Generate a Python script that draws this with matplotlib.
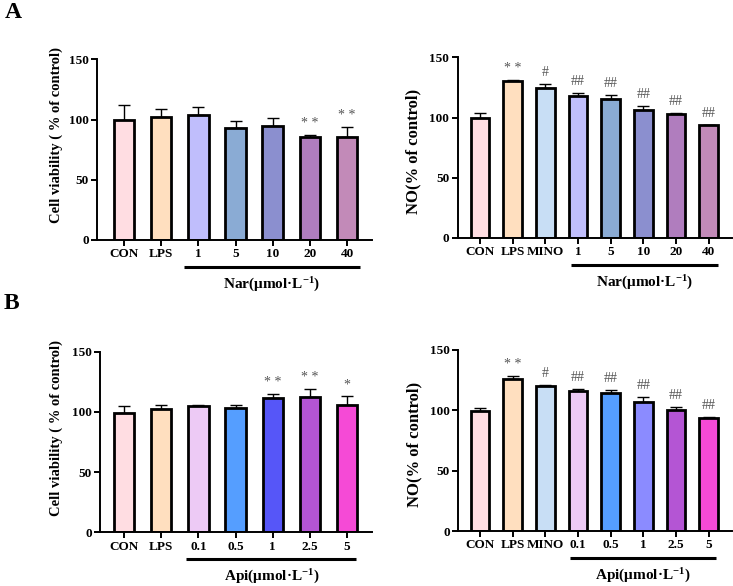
import matplotlib
matplotlib.use("Agg")
import matplotlib.pyplot as plt

plt.rcParams['font.family'] = ['Liberation Serif', 'DejaVu Serif']
plt.rcParams['font.weight'] = 'bold'
plt.rcParams['axes.labelweight'] = 'bold'
plt.rcParams['mathtext.fontset'] = 'custom'
plt.rcParams['mathtext.rm'] = 'Liberation Serif:bold'
plt.rcParams['mathtext.it'] = 'Liberation Serif:bold'
plt.rcParams['mathtext.bf'] = 'Liberation Serif:bold'

# ---- data ----
nar_via_labels = ["CON", "LPS", "1", "5", "10", "20", "40"]
nar_via_values = [99.6, 102.4, 103.5, 92.7, 94.9, 85.8, 85.2]
nar_via_err = [12.2, 6.1, 7.2, 5.8, 6.7, 1.4, 8.6]
nar_via_sig = ["", "", "", "", "", "* *", "* *"]
nar_via_colors = ["#FFDDE2", "#FFDFBF", "#C0BEFC", "#8AABD4", "#8B8FCF", "#B07DBE", "#C28AB8"]

nar_no_labels = ["CON", "LPS", "MINO", "1", "5", "10", "20", "40"]
nar_no_values = [99.6, 130.6, 124.8, 117.6, 115.1, 106.3, 103.0, 93.5]
nar_no_err = [3.9, 0.6, 2.8, 3.1, 3.9, 3.3, 0.5, 0.6]
nar_no_sig = ["", "* *", "#", "##", "##", "##", "##", "##"]
nar_no_colors = ["#FFDDE2", "#FFDFBF", "#C8DEF5", "#C0BEFC", "#8AABD4", "#8B8FCF", "#B07DBE", "#C28AB8"]

api_via_labels = ["CON", "LPS", "0.1", "0.5", "1", "2.5", "5"]
api_via_values = [99.4, 102.1, 105.2, 103.5, 111.5, 112.6, 105.7]
api_via_err = [5.2, 3.4, 0.5, 2.2, 3.4, 6.4, 7.5]
api_via_sig = ["", "", "", "", "* *", "* *", "*"]
api_via_colors = ["#FFDDE2", "#FFDFBF", "#EDCAF5", "#559EFF", "#5656F8", "#B455D4", "#F54AD6"]

api_no_labels = ["CON", "LPS", "MINO", "0.1", "0.5", "1", "2.5", "5"]
api_no_values = [99.2, 125.7, 120.2, 116.3, 114.1, 106.9, 100.0, 93.6]
api_no_err = [2.5, 3.0, 1.1, 1.7, 2.8, 4.4, 2.8, 1.2]
api_no_sig = ["", "* *", "#", "##", "##", "##", "##", "##"]
api_no_colors = ["#FFDDE2", "#FFDFBF", "#C8DEF5", "#EDCAF5", "#559EFF", "#8B8BFF", "#B455D4", "#F54AD6"]

W, H = 733, 586
fig = plt.figure(figsize=(W / 100, H / 100), dpi=100)


def make_axes(x0, x1, ybot, ytop):
    return fig.add_axes([x0 / W, 1 - ybot / H, (x1 - x0) / W, (ybot - ytop) / H])


def panel(ax, labels, values, errs, sigs, colors, ylabel, ylabel_size,
          ylabel_pos, xlim, width, group_span, group_label):
    x = list(range(len(labels)))
    ax.bar(x, values, width=width, color=colors, edgecolor="black",
           linewidth=2.0, zorder=2)
    ax.errorbar(x, values, yerr=[[0] * len(errs), errs], fmt="none",
                ecolor="black", elinewidth=1.0, capsize=4, capthick=1.0,
                zorder=1)
    for xi, v, e, s in zip(x, values, errs, sigs):
        if s:
            ax.text(xi, v + e + 4, s, ha="center", va="bottom",
                    fontsize=10, color="#555555", fontweight="normal")
    ax.set_xlim(*xlim)
    ax.set_ylim(0, 150)
    ax.set_yticks([0, 50, 100, 150])
    ax.set_xticks(x)
    ax.set_xticklabels(labels)
    for sp in ["top", "right"]:
        ax.spines[sp].set_visible(False)
    for sp in ["left", "bottom"]:
        ax.spines[sp].set_linewidth(1.4)
    ax.tick_params(axis="both", width=1.4, length=4, labelsize=9.5, pad=2)
    ax.set_ylabel(ylabel, fontsize=ylabel_size, fontweight="bold")
    ax.yaxis.set_label_coords(*ylabel_pos)
    ax.plot(group_span, [-22.5, -22.5], color="black", lw=2.2,
            clip_on=False, solid_capstyle="butt")
    ax.text(sum(group_span) / 2, -37, group_label, ha="center", va="center",
            fontsize=11)


ax1 = make_axes(97, 372, 240, 59.3)
panel(ax1, nar_via_labels, nar_via_values, nar_via_err, nar_via_sig,
      nar_via_colors, "Cell viability ( % of control)", 10.5, (-0.123, 0.58),
      (-0.726, 6.67), 0.55, (1.61, 6.35), r"Nar(μmol·L$^{-1}$)")

ax2 = make_axes(457.7, 731.7, 238, 57.3)
panel(ax2, nar_no_labels, nar_no_values, nar_no_err, nar_no_sig,
      nar_no_colors, "NO(% of control)", 12, (-0.133, 0.48), (-0.68, 7.7),
      0.57, (2.8, 7.29), r"Nar(μmol·L$^{-1}$)")

ax3 = make_axes(100, 372, 532.3, 351.7)
panel(ax3, api_via_labels, api_via_values, api_via_err, api_via_sig,
      api_via_colors, "Cell viability ( % of control)", 10.5, (-0.135, 0.578),
      (-0.646, 6.67), 0.55, (1.68, 6.25), r"Api(μmol·L$^{-1}$)")

ax4 = make_axes(458.3, 731.7, 531, 350)
panel(ax4, api_no_labels, api_no_values, api_no_err, api_no_sig,
      api_no_colors, "NO(% of control)", 12, (-0.133, 0.48), (-0.66, 7.7),
      0.57, (2.76, 7.23), r"Api(μmol·L$^{-1}$)")

fig.text(13 / W, 1 - 12 / H, "A", fontsize=17, ha="center", va="center")
fig.text(11 / W, 1 - 304 / H, "B", fontsize=17, ha="center", va="center")

fig.savefig("out.png", dpi=100)
